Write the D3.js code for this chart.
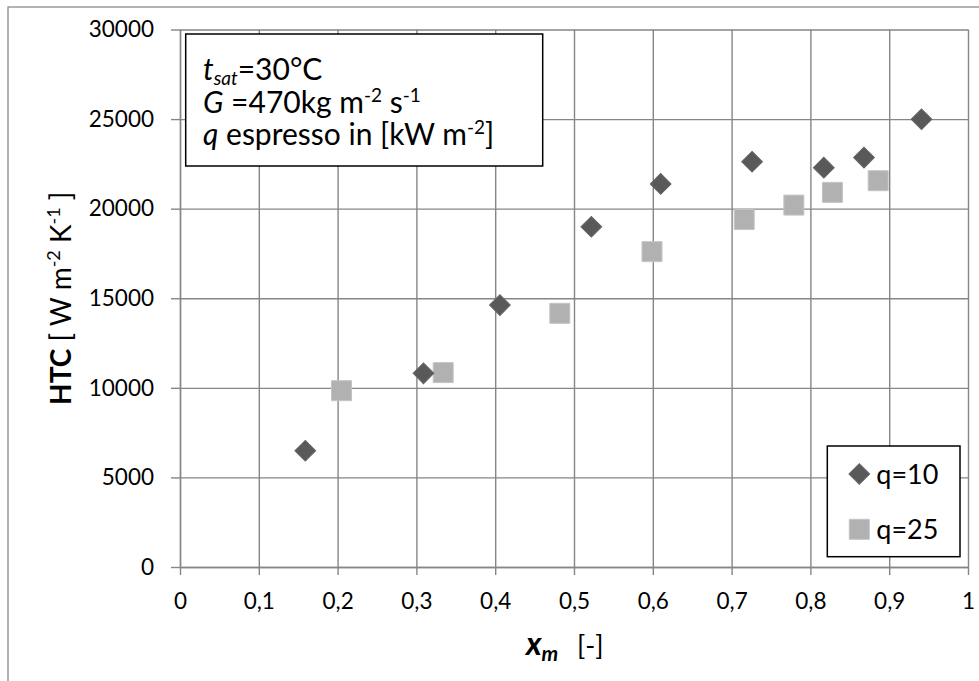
<!DOCTYPE html>
<html>
<head>
<meta charset="utf-8">
<script src="https://cdn.jsdelivr.net/npm/d3@7"></script>
<style>
  body { margin: 0; background: #fff; }
  svg text { font-family: Lato, "Open Sans", sans-serif; fill: #000; }
</style>
</head>
<body>
<div id="chart"></div>
<script>
// q = 10 kW m-2
var q10x = [0.159, 0.309, 0.406, 0.522, 0.610, 0.726, 0.817, 0.868, 0.941]
var q10y = [6490, 10810, 14620, 18990, 21380, 22620, 22290, 22850, 24990]
// q = 25 kW m-2
var q25x = [0.205, 0.334, 0.482, 0.599, 0.716, 0.779, 0.828, 0.886]
var q25y = [9840, 10850, 14160, 17600, 19400, 20200, 20910, 21560]

var xTicks = [0, 0.1, 0.2, 0.3, 0.4, 0.5, 0.6, 0.7, 0.8, 0.9, 1]
var yTicks = [0, 5000, 10000, 15000, 20000, 25000, 30000]

var W = 979, H = 681
var m = {left: 180, top: 29.5, right: 11, bottom: 114}
var gridColor = '#868686'

var svg = d3.select('#chart').append('svg').attr('width', W).attr('height', H)

// outer chart frame (only top/left fall inside the picture)
svg.append('rect')
  .attr('x', 8).attr('y', 7).attr('width', 1000).attr('height', 700)
  .attr('fill', 'none').attr('stroke', '#8a8a8a').attr('stroke-width', 1.3)

var x = d3.scaleLinear().domain([0, 1]).range([m.left, W - m.right])
var y = d3.scaleLinear().domain([0, 30000]).range([H - m.bottom, m.top])

var fmt = d => String(d).replace('.', ',')

// grid
svg.append('g')
  .attr('transform', 'translate(0,' + y(0) + ')')
  .call(d3.axisBottom(x).tickValues(xTicks).tickSize(-(y(0) - y(30000))).tickFormat(''))
  .call(g => g.select('.domain').remove())
  .call(g => g.selectAll('line').attr('stroke', gridColor).attr('stroke-width', 1.4))

svg.append('g')
  .attr('transform', 'translate(' + x(0) + ',0)')
  .call(d3.axisLeft(y).tickValues(yTicks).tickSize(-(x(1) - x(0))).tickFormat(''))
  .call(g => g.select('.domain').remove())
  .call(g => g.selectAll('line').attr('stroke', gridColor).attr('stroke-width', 1.4))

// axes
var xAxis = svg.append('g')
  .attr('transform', 'translate(0,' + y(0) + ')')
  .call(d3.axisBottom(x).tickValues(xTicks).tickFormat(fmt).tickSizeInner(8).tickSizeOuter(0).tickPadding(18))
xAxis.selectAll('text').attr('font-size', 22.5).style('font-family', 'Lato')

var yAxis = svg.append('g')
  .attr('transform', 'translate(' + x(0) + ',0)')
  .call(d3.axisLeft(y).tickValues(yTicks).tickFormat(d => d).tickSizeInner(9).tickSizeOuter(0).tickPadding(17))
yAxis.selectAll('text').attr('font-size', 22.5).style('font-family', 'Lato')

svg.selectAll('.domain, .tick line').attr('stroke', gridColor).attr('stroke-width', 1.4)

// markers
var diamond = d3.symbol().type(d3.symbolSquare).size(215)
var square = d3.symbol().type(d3.symbolSquare).size(400)

svg.append('g').selectAll('path')
  .data(q25x.map((d, i) => [d, q25y[i]]))
  .join('path')
  .attr('d', square)
  .attr('transform', d => 'translate(' + x(d[0]) + ',' + y(d[1]) + ')')
  .attr('fill', '#b1b1b1').attr('stroke', '#c4c4c4').attr('stroke-width', 1)

svg.append('g').selectAll('path')
  .data(q10x.map((d, i) => [d, q10y[i]]))
  .join('path')
  .attr('d', diamond)
  .attr('transform', d => 'translate(' + x(d[0]) + ',' + y(d[1]) + ') rotate(45)')
  .attr('fill', '#595959').attr('stroke', '#646464').attr('stroke-width', 1)

// info box
svg.append('rect')
  .attr('x', 185.7).attr('y', 34).attr('width', 357).attr('height', 132)
  .attr('fill', '#fff').attr('stroke', '#000').attr('stroke-width', 1.5)

var info = svg.append('g').attr('font-size', 30)
var l1 = info.append('text').attr('x', 203).attr('y', 80)
l1.append('tspan').attr('font-style', 'italic').text('t')
l1.append('tspan').attr('font-style', 'italic').attr('font-size', 19).attr('dy', 5).text('sat')
l1.append('tspan').attr('dy', -5).text('=30°C')

var l2 = info.append('text').attr('x', 203).attr('y', 112.5)
l2.append('tspan').attr('font-style', 'italic').text('G')
l2.append('tspan').text(' =470kg m')
l2.append('tspan').attr('font-size', 19).attr('dy', -11).text('-2')
l2.append('tspan').attr('dy', 11).text(' s')
l2.append('tspan').attr('font-size', 19).attr('dy', -11).text('-1')

var l3 = info.append('text').attr('x', 203).attr('y', 144.5)
l3.append('tspan').attr('font-style', 'italic').text('q')
l3.append('tspan').text(' espresso in [kW m')
l3.append('tspan').attr('font-size', 19).attr('dy', -11).text('-2')
l3.append('tspan').attr('dy', 11).text(']')

// legend
svg.append('rect')
  .attr('x', 827.3).attr('y', 446).attr('width', 132.7).attr('height', 110.7)
  .attr('fill', '#fff').attr('stroke', '#000').attr('stroke-width', 1.5)

var legend = [
  {label: 'q=10', sym: diamond, rot: 45, fill: '#595959', stroke: '#646464', cy: 474},
  {label: 'q=25', sym: square, rot: 0, fill: '#b1b1b1', stroke: '#c4c4c4', cy: 529.3}
]
var lg = svg.append('g').selectAll('g').data(legend).join('g')
  .attr('transform', d => 'translate(859.3,' + d.cy + ')')
lg.append('path')
  .attr('d', d => d.sym())
  .attr('transform', d => 'rotate(' + d.rot + ')')
  .attr('fill', d => d.fill).attr('stroke', d => d.stroke)
lg.append('text')
  .attr('x', 17).attr('y', 9.5)
  .attr('font-size', 27)
  .text(d => d.label)

// axis titles
var yt = svg.append('text')
  .attr('transform', 'translate(71,' + y(15000) + ') rotate(-90)')
  .attr('text-anchor', 'middle')
  .attr('font-size', 28)
yt.append('tspan').attr('font-weight', 'bold').text('HTC')
yt.append('tspan').text(' [ W m')
yt.append('tspan').attr('font-size', 18).attr('dy', -11).text('-2')
yt.append('tspan').attr('dy', 11).text(' K')
yt.append('tspan').attr('font-size', 18).attr('dy', -11).text('-1')
yt.append('tspan').attr('dy', 11).text(' ]')

var xt = svg.append('g')
var xm = xt.append('text').attr('x', 526).attr('y', 655)
xm.append('tspan').attr('font-weight', 'bold').attr('font-style', 'italic').attr('font-size', 32).text('x')
xm.append('tspan').attr('font-weight', 'bold').attr('font-style', 'italic').attr('font-size', 21).attr('dy', 6).text('m')
xt.append('text').attr('x', 577).attr('y', 655).attr('font-size', 27).text('[-]')
</script>
</body>
</html>
